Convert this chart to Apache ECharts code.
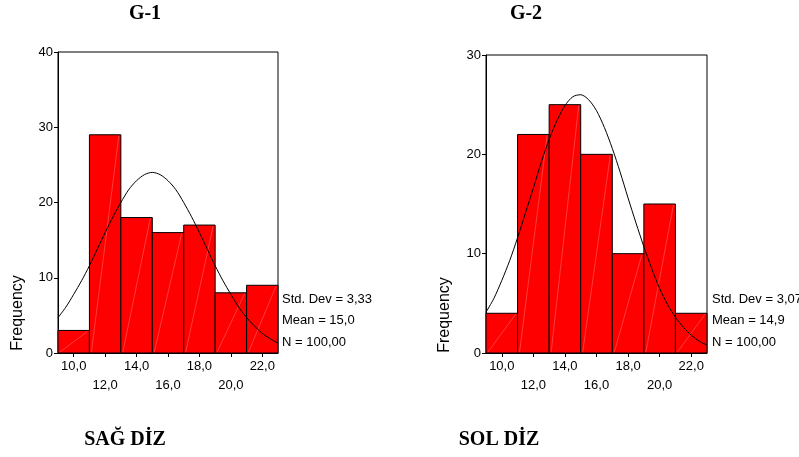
<!DOCTYPE html>
<html><head><meta charset="utf-8">
<script src="https://cdn.jsdelivr.net/npm/echarts@6/dist/echarts.min.js"></script>
<style>html,body{margin:0;padding:0;background:#fff}#c{width:799px;height:457px}</style>
</head><body><div id="c"></div>
<script>
// ---- data ----
const binEdges = [9, 11, 13, 15, 17, 19, 21, 23];
const countsSag = [3, 29, 18, 16, 17, 8, 9];
const countsSol = [4, 22, 25, 20, 10, 15, 4];
const curveX = [9, 9.5, 10, 10.5, 11, 11.5, 12, 12.5, 13, 13.5, 14, 14.5, 15, 15.5, 16, 16.5, 17, 17.5, 18, 18.5, 19, 19.5, 20, 20.5, 21, 21.5, 22, 22.5, 23];
const curveSag = [4.7, 6.1, 7.8, 9.6, 11.6, 13.8, 16.0, 18.1, 20.0, 21.7, 22.9, 23.7, 24.0, 23.7, 22.9, 21.7, 20.0, 18.1, 16.0, 13.8, 11.6, 9.6, 7.8, 6.1, 4.7, 3.6, 2.6, 1.9, 1.3];
const curveSol = [4.1, 5.5, 7.3, 9.3, 11.6, 14.1, 16.6, 19.2, 21.5, 23.4, 24.9, 25.8, 26.0, 25.5, 24.4, 22.7, 20.6, 18.2, 15.6, 13.1, 10.7, 8.5, 6.5, 4.9, 3.6, 2.6, 1.8, 1.2, 0.8];
const xTicks = [10, 12, 14, 16, 18, 20, 22];
const xLabelsRow1 = [10, 14, 18, 22];
const xLabelsRow2 = [12, 16, 20];
const yMaxSag = 40;
const yMaxSol = 30;
const statsSag = ['Std. Dev = 3,33', 'Mean = 15,0', 'N = 100,00'];
const statsSol = ['Std. Dev = 3,07', 'Mean = 14,9', 'N = 100,00'];
const titles = ['G-1', 'G-2'];
const captions = ['SAĞ DİZ', 'SOL DİZ'];
const yName = 'Frequency';

// ---- chart ----
const chart = echarts.init(document.getElementById('c'));
const sans = 'Liberation Sans, Arial, sans-serif';
const serif = 'Liberation Serif, Times New Roman, serif';
const fmt = v => v.toFixed(1).replace('.', ',');

function xAxes(gi) {
  return [
    { gridIndex: gi, type: 'value', min: 9, max: 23, position: 'bottom',
      axisLine: { lineStyle: { color: '#000', width: 1 } },
      axisTick: { show: true, customValues: xTicks, length: 4, lineStyle: { color: '#000' } },
      axisLabel: { customValues: xLabelsRow1, formatter: fmt, margin: 7, color: '#000', fontSize: 13, fontFamily: sans },
      splitLine: { show: false } },
    { gridIndex: gi, type: 'value', min: 9, max: 23, position: 'bottom',
      axisLine: { show: false }, axisTick: { show: false },
      axisLabel: { customValues: xLabelsRow2, formatter: fmt, margin: 26, color: '#000', fontSize: 13, fontFamily: sans },
      splitLine: { show: false } }
  ];
}
function yAxis(gi, max) {
  return { gridIndex: gi, type: 'value', min: 0, max: max, interval: 10,
    axisLine: { show: true, lineStyle: { color: '#000', width: 1 } },
    axisTick: { show: true, length: 4, lineStyle: { color: '#000' } },
    axisLabel: { margin: 5, color: '#000', fontSize: 13, fontFamily: sans },
    splitLine: { show: false } };
}
function barSeries(counts, xi, yi) {
  return { type: 'custom', xAxisIndex: xi, yAxisIndex: yi, z: 2,
    data: counts.map((c, i) => [binEdges[i], binEdges[i + 1], c]),
    encode: { x: [0, 1], y: 2 },
    renderItem(params, api) {
      const p0 = api.coord([api.value(0), api.value(2)]);
      const p1 = api.coord([api.value(1), 0]);
      return { type: 'group', children: [
        { type: 'rect', shape: { x: p0[0], y: p0[1], width: p1[0] - p0[0], height: p1[1] - p0[1] },
          style: { fill: '#ff0000', stroke: '#000', lineWidth: 1 } },
        { type: 'line', shape: { x1: p0[0] + 2, y1: p1[1] - 1, x2: p1[0] - 2, y2: p0[1] + 1 },
          style: { stroke: 'rgba(255,220,220,0.45)', lineWidth: 0.6 } }
      ] };
    } };
}
function curveSeries(vals, xi, yi) {
  return { type: 'line', xAxisIndex: xi, yAxisIndex: yi, z: 3, smooth: 0.3, symbol: 'none',
    lineStyle: { color: '#000', width: 1 },
    data: curveX.map((x, i) => [x, vals[i]]) };
}
function txt(text, x, y, font, align, extra) {
  return Object.assign({ type: 'text', x: x, y: y,
    style: { text: text, font: font, fill: '#000', align: align || 'center', verticalAlign: 'middle' } }, extra || {});
}

const graphics = [
  txt(titles[0], 145, 14, 'bold 20px ' + serif),
  txt(titles[1], 526, 14, 'bold 20px ' + serif),
  txt(captions[0], 125, 440, 'bold 20px ' + serif),
  txt(captions[1], 499, 440, 'bold 20px ' + serif),
  txt(yName, 18, 313, '16px ' + sans, 'center', { rotation: Math.PI / 2 }),
  txt(yName, 445, 315, '16px ' + sans, 'center', { rotation: Math.PI / 2 })
];
[299, 320, 342].forEach((y, i) => {
  graphics.push(txt(statsSag[i], 282, y, '13px ' + sans, 'left'));
  graphics.push(txt(statsSol[i], 712, y, '13px ' + sans, 'left'));
});

chart.setOption({
  animation: false,
  backgroundColor: '#fff',
  grid: [
    { left: 58, top: 52, width: 220, height: 301, show: true, borderColor: '#000', borderWidth: 1, backgroundColor: 'transparent' },
    { left: 486, top: 55, width: 221, height: 298, show: true, borderColor: '#000', borderWidth: 1, backgroundColor: 'transparent' }
  ],
  xAxis: [...xAxes(0), ...xAxes(1)],
  yAxis: [yAxis(0, yMaxSag), yAxis(1, yMaxSol)],
  series: [
    barSeries(countsSag, 0, 0), curveSeries(curveSag, 0, 0),
    barSeries(countsSol, 2, 1), curveSeries(curveSol, 2, 1)
  ],
  graphic: graphics
});
</script></body></html>
